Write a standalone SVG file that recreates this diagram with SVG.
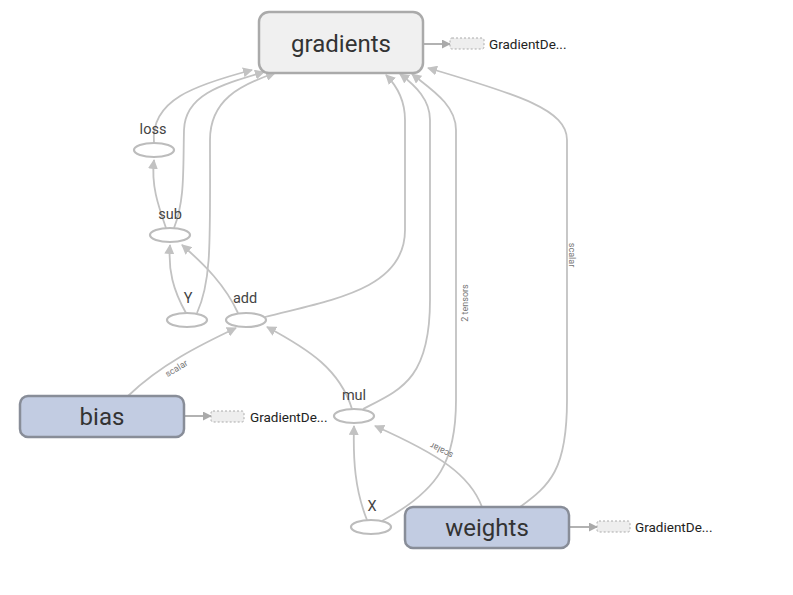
<svg xmlns="http://www.w3.org/2000/svg" width="793" height="595" viewBox="0 0 793 595">
<style>
.edge{fill:none;stroke:#c2c2c2;stroke-width:1.8}
.op{fill:#fff;stroke:#bcbcbc;stroke-width:2.2}
.lbl{font-family:Roboto,"Liberation Sans",sans-serif;font-size:14.5px;fill:#444;text-anchor:middle}
.big{font-family:Roboto,"Liberation Sans",sans-serif;font-size:24px;fill:#333;text-anchor:middle}
.small{font-family:Roboto,"Liberation Sans",sans-serif;font-size:13.5px;fill:#222}
.elbl{font-family:Roboto,"Liberation Sans",sans-serif;font-size:9px;fill:#777;text-anchor:middle}
.stub{fill:#eee;stroke:#aaa;stroke-width:1;stroke-dasharray:2,2}
.meta{fill:#f0f0f0;stroke:#aaa;stroke-width:2.5}
.var{fill:#c2cce2;stroke:#888d98;stroke-width:2.5}
</style>
<defs>
<marker id="ah" viewBox="0 0 10 10" refX="9" refY="5" markerWidth="10" markerHeight="10" markerUnits="userSpaceOnUse" orient="auto">
<path d="M0,0 L10,5 L0,10 z" fill="#c2c2c2"/>
</marker>
<marker id="ah2" viewBox="0 0 10 10" refX="9" refY="5" markerWidth="9" markerHeight="9" markerUnits="userSpaceOnUse" orient="auto">
<path d="M0,0 L10,5 L0,10 z" fill="#aaa"/>
</marker>
</defs>
<g id="edges">
<path class="edge" marker-end="url(#ah)" d="M166 228 C158 205 151 185 154 160"/>
<path class="edge" marker-end="url(#ah)" d="M154 143 C150 100 195 85 252 70"/>
<path class="edge" marker-end="url(#ah)" d="M174 228 C185 200 183 170 184 130 C185 95 220 85 264 72"/>
<path class="edge" marker-end="url(#ah)" d="M197 313 C212 280 210 240 210 140 C210 100 240 85 275 73"/>
<path class="edge" marker-end="url(#ah)" d="M186 313 C173 290 168 270 170 245"/>
<path class="edge" marker-end="url(#ah)" d="M238 313 C225 285 205 265 182 245"/>
<path class="edge" marker-end="url(#ah)" d="M265 317 C330 300 405 290 405 230 L405 120 C405 100 397 86 386 75"/>
<path class="edge" marker-end="url(#ah)" d="M352 409 C340 370 310 350 267 327"/>
<path class="edge" marker-end="url(#ah)" d="M363 409 C400 390 430 380 430 300 L430 120 C430 100 416 86 400 74"/>
<path class="edge" marker-end="url(#ah)" d="M382 521 C440 490 456 460 456 400 L456 130 C456 105 432 90 412 74"/>
<path class="edge" marker-end="url(#ah)" d="M367 520 C355 490 353 460 354 426"/>
<path class="edge" marker-end="url(#ah)" d="M482 507 C470 475 440 455 375 426"/>
<path class="edge" marker-end="url(#ah)" d="M520 507 C550 485 567 470 567 400 L567 140 C567 110 520 95 428 68"/>
<path class="edge" marker-end="url(#ah)" d="M128 396 C160 365 200 345 236 328"/>
<path class="edge" marker-end="url(#ah2)" style="stroke:#aaa" d="M423 44 L450 44"/>
<path class="edge" marker-end="url(#ah2)" style="stroke:#aaa" d="M184 416 L211 416"/>
<path class="edge" marker-end="url(#ah2)" style="stroke:#aaa" d="M569 527 L597 527"/>
<text class="elbl" transform="translate(178,371) rotate(-31)">scalar</text>
<text class="elbl" transform="translate(443,448) rotate(207)">scalar</text>
<text class="elbl" transform="translate(468,303) rotate(-90)">2 tensors</text>
<text class="elbl" transform="translate(569,255) rotate(90)">scalar</text>
</g>
<g id="gradients">
<rect class="meta" x="259" y="12" width="164" height="61" rx="10"/>
<text class="big" x="341" y="52">gradients</text>
</g>
<g id="gradients_gd">
<rect class="stub" x="450" y="38" width="34" height="11" rx="2"/>
<text class="small" x="489" y="48.5">GradientDe...</text>
</g>
<g id="bias">
<rect class="var" x="20" y="396" width="164" height="41" rx="8"/>
<text class="big" x="102" y="425">bias</text>
</g>
<g id="bias_gd">
<rect class="stub" x="211" y="411" width="33" height="11" rx="2"/>
<text class="small" x="250" y="421.5">GradientDe...</text>
</g>
<g id="weights">
<rect class="var" x="405" y="507" width="164" height="41" rx="8"/>
<text class="big" x="487" y="536">weights</text>
</g>
<g id="weights_gd">
<rect class="stub" x="597" y="521" width="33" height="11" rx="2"/>
<text class="small" x="635" y="531.5">GradientDe...</text>
</g>
<g id="loss">
<ellipse class="op" cx="154" cy="150" rx="20" ry="7"/>
<text class="lbl" x="153" y="134">loss</text>
</g>
<g id="sub">
<ellipse class="op" cx="170" cy="235" rx="20" ry="7"/>
<text class="lbl" x="170" y="219">sub</text>
</g>
<g id="Y">
<ellipse class="op" cx="187" cy="320" rx="20" ry="7"/>
<text class="lbl" x="188" y="303">Y</text>
</g>
<g id="add">
<ellipse class="op" cx="246" cy="320" rx="20" ry="7"/>
<text class="lbl" x="245" y="303">add</text>
</g>
<g id="mul">
<ellipse class="op" cx="354" cy="416" rx="20" ry="7"/>
<text class="lbl" x="354" y="400">mul</text>
</g>
<g id="X">
<ellipse class="op" cx="371" cy="527" rx="20" ry="7"/>
<text class="lbl" x="372" y="511">X</text>
</g>
</svg>
